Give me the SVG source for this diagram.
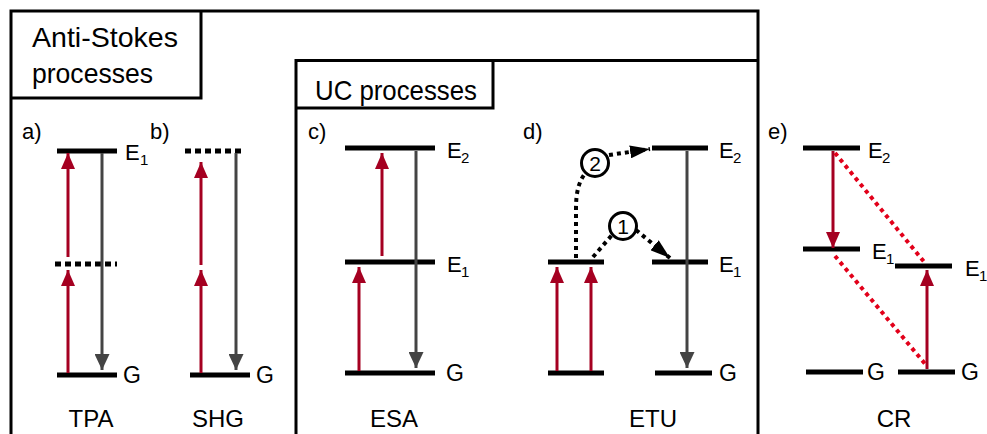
<svg xmlns="http://www.w3.org/2000/svg" width="987" height="434" viewBox="0 0 987 434">
<style>
.frame{fill:none;stroke:#000;stroke-width:3}
.lvl{stroke:#000;stroke-width:5;fill:none}
.vlvl{stroke:#000;stroke-width:5;stroke-dasharray:6 4;fill:none}
.red{stroke:#a50021;stroke-width:3;fill:none}
.gray{stroke:#444;stroke-width:3;fill:none}
.etu{stroke:#000;stroke-width:4;stroke-dasharray:4 4;fill:none}
.cr{stroke:#e2001a;stroke-width:4;stroke-dasharray:4 4;fill:none}
.circ{fill:#fff;stroke:#000;stroke-width:3}
text{font-family:"Liberation Sans",Arial,sans-serif;fill:#000}
.title{font-size:28.5px}
.pl{font-size:22px}
.e{font-size:22px}
.sub{font-size:15px}
.g{font-size:23px}
.name{font-size:24px;text-anchor:middle}
.num{font-size:21px;text-anchor:middle}
</style>
<defs>
<marker id="hr" markerUnits="userSpaceOnUse" markerWidth="16" markerHeight="14" refX="16" refY="7" orient="auto"><path d="M0,0 L16,7 L0,14 z" fill="#a50021"/></marker>
<marker id="hg" markerUnits="userSpaceOnUse" markerWidth="16" markerHeight="15" refX="16" refY="7.5" orient="auto"><path d="M0,0 L16,7.5 L0,15 z" fill="#444"/></marker>
<marker id="hb" markerUnits="userSpaceOnUse" markerWidth="20" markerHeight="13" refX="20" refY="6.5" orient="auto"><path d="M0,0 L20,6.5 L0,13 z" fill="#000"/></marker>
</defs>

<g id="frames">
<path class="frame" d="M11,434 V11 H758 V434"/>
<path class="frame" d="M11,98 H201 V11"/>
<path class="frame" d="M296,434 V60.5 H758"/>
<path class="frame" d="M296,108 H493 V60.5"/>
</g>
<g id="titles">
<text class="title" x="32" y="47" textLength="146" lengthAdjust="spacingAndGlyphs">Anti-Stokes</text>
<text class="title" x="32" y="83" textLength="121" lengthAdjust="spacingAndGlyphs">processes</text>
<text class="title" x="315" y="100" textLength="162" lengthAdjust="spacingAndGlyphs">UC processes</text>
</g>

<g id="panel-a">
<text class="pl" x="22" y="139">a)</text>
<path class="lvl" d="M57,151 H117"/>
<path class="vlvl" d="M55,264 H117"/>
<path class="lvl" d="M57,375 H117"/>
<text class="e" x="125" y="160">E</text><text class="sub" x="140" y="165">1</text>
<text class="g" x="123" y="383">G</text>
<text class="name" x="91" y="427">TPA</text>
</g>
<g id="panel-b">
<text class="pl" x="150" y="139">b)</text>
<path class="vlvl" d="M185,151 H245"/>
<path class="lvl" d="M190,375 H250"/>
<text class="g" x="256" y="383">G</text>
<text class="name" x="218" y="427">SHG</text>
</g>
<g id="panel-c">
<text class="pl" x="308" y="139">c)</text>
<path class="lvl" d="M345,148 H435"/>
<path class="lvl" d="M345,262 H435"/>
<path class="lvl" d="M345,373 H435"/>
<text class="e" x="447" y="158">E</text><text class="sub" x="461" y="163">2</text>
<text class="e" x="447" y="272">E</text><text class="sub" x="461" y="277">1</text>
<text class="g" x="446" y="381">G</text>
<text class="name" x="394" y="427">ESA</text>
</g>
<g id="panel-d">
<text class="pl" x="523" y="139">d)</text>
<path class="lvl" d="M548,262 H604"/>
<path class="lvl" d="M548,373 H604"/>
<path class="lvl" d="M652,148 H708"/>
<path class="lvl" d="M652,262 H708"/>
<path class="lvl" d="M655,373 H712"/>
<text class="e" x="719" y="158">E</text><text class="sub" x="733" y="163">2</text>
<text class="e" x="719" y="272">E</text><text class="sub" x="733" y="277">1</text>
<text class="g" x="719" y="381">G</text>
<text class="name" x="653" y="427">ETU</text>
</g>
<g id="panel-e">
<text class="pl" x="768" y="139">e)</text>
<path class="lvl" d="M803,148 H860"/>
<path class="lvl" d="M803,249 H860"/>
<path class="lvl" d="M806,372 H863"/>
<path class="lvl" d="M895,266 H952"/>
<path class="lvl" d="M898,372 H955"/>
<text class="e" x="868" y="158">E</text><text class="sub" x="882" y="163">2</text>
<text class="e" x="872" y="259">E</text><text class="sub" x="886" y="264">1</text>
<text class="e" x="965" y="276">E</text><text class="sub" x="979" y="281">1</text>
<text class="g" x="867" y="380">G</text>
<text class="g" x="961" y="380">G</text>
<text class="name" x="894" y="427">CR</text>
</g>

<g id="connectors">
<path class="red" d="M68,373 V270" marker-end="url(#hr)"/>
<path class="red" d="M68,257 V153" marker-end="url(#hr)"/>
<path class="gray" d="M102,153 V370" marker-end="url(#hg)"/>
<path class="red" d="M201,373 V270" marker-end="url(#hr)"/>
<path class="red" d="M201,265 V162" marker-end="url(#hr)"/>
<path class="gray" d="M236,153 V370" marker-end="url(#hg)"/>
<path class="red" d="M359,371 V267" marker-end="url(#hr)"/>
<path class="red" d="M382,256 V153" marker-end="url(#hr)"/>
<path class="gray" d="M416,151 V368" marker-end="url(#hg)"/>
<path class="red" d="M557,371 V267" marker-end="url(#hr)"/>
<path class="red" d="M591,371 V267" marker-end="url(#hr)"/>
<path class="gray" d="M687,151 V368" marker-end="url(#hg)"/>
<path class="etu" d="M576,258 L576,208 Q576,186 584,175"/>
<path class="etu" d="M609,155 L650,149" marker-end="url(#hb)"/>
<path class="etu" d="M593,257 L612,235"/>
<path class="etu" d="M636,230 L670,258" marker-end="url(#hb)"/>
<path class="red" d="M833,151 V248" marker-end="url(#hr)"/>
<path class="red" d="M927,369 V270" marker-end="url(#hr)"/>
<path class="cr" d="M835,153 L925,263"/>
<path class="cr" d="M835,256 L926,365"/>
</g>
<g id="etu-steps">
<circle class="circ" cx="595" cy="163" r="13.5"/>
<text class="num" x="595" y="170.5">2</text>
<circle class="circ" cx="623" cy="226" r="13.5"/>
<text class="num" x="623" y="233.5">1</text>
</g>
</svg>
